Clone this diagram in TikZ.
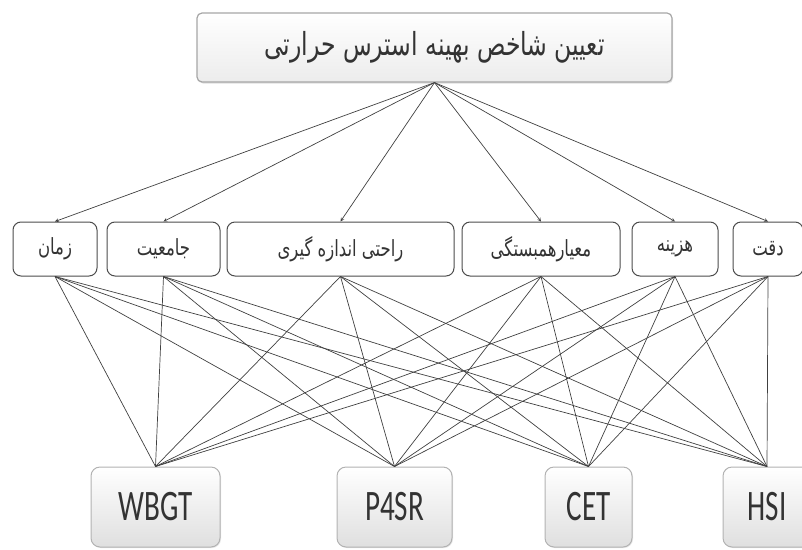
\documentclass[tikz,border=0pt]{standalone}
\usepackage{fontspec}
\setmainfont{Carlito}
\newfontfamily\farsi[Script=Arabic]{DejaVu Sans}
\TeXXeTstate=1
\usetikzlibrary{shadows}

\newcommand{\fa}[1]{{\farsi\beginR #1\endR}}
\newcommand{\tall}[1]{\scalebox{1}[1.35]{#1}}
\newcommand{\narrow}[1]{\scalebox{0.97}[1.45]{#1}}

\begin{document}
\begin{tikzpicture}[x=1pt, y=-1pt, >=stealth]
        \useasboundingbox (0,0) rectangle (802,549);
        \tikzstyle{every node}=[text=black!80, inner sep=0pt]
        \tikzstyle{goal}=[draw=gray!70, line width=1.2pt, rounded corners=5pt, top color=white, bottom color=gray!15, minimum width=475pt, minimum height=69pt, font=\fontsize{23.5}{28}\selectfont, drop shadow={opacity=0.25, shadow xshift=1pt, shadow yshift=-1.5pt}]
        \tikzstyle{crit}=[draw=black!70, line width=1pt, rounded corners=8pt, fill=white, minimum height=54pt, font=\fontsize{16.5}{20}\selectfont]
        \tikzstyle{alt}=[draw=gray!60, line width=1pt, rounded corners=9pt, top color=white, bottom color=gray!25, minimum height=80pt, font=\fontsize{30}{36}\selectfont, drop shadow={opacity=0.2, shadow xshift=1pt, shadow yshift=-1pt}]
        \tikzstyle{link}=[draw=black!75, line width=0.7pt]

% goal, criteria and alternatives

        \node[goal] (goal) at (434.5,47.5) {\tall{\fa{تعیین شاخص بهینه استرس حرارتی}}};

        \node[crit, minimum width=84pt] (zaman) at (55,249) {\tall{\fa{زمان}}};
        \node[crit, minimum width=113pt] (jameiat) at (163.5,249) {\tall{\fa{جامعیت}}};
        \node[crit, minimum width=227pt] (rahati) at (340.5,249) {\tall{\fa{راحتی اندازه گیری}}};
        \node[crit, minimum width=158pt] (meyar) at (541,249) {\tall{\fa{معیارهمبستگی}}};
        \node[crit, minimum width=86pt] (hazine) at (675,249) {\tall{\fa{هزینه}}};
        \node[crit, minimum width=70pt] (deghat) at (768,249) {\tall{\fa{دقت}}};

        \node[alt, minimum width=129pt] (wbgt) at (155.5,507) {\narrow{WBGT}};
        \node[alt, minimum width=115pt] (p4sr) at (394.5,507) {\narrow{P4SR}};
        \node[alt, minimum width=87pt] (cet) at (588.5,507) {\narrow{CET}};
        \node[alt, minimum width=88pt] (hsi) at (767,507) {\narrow{HSI}};

        \foreach \c in {zaman,jameiat,rahati,meyar,hazine,deghat} {
            \draw[link,->] (goal.south) -- (\c.north);
            \foreach \a in {wbgt,p4sr,cet,hsi}
                \draw[link] (\c.south) -- (\a.north);
        }

    \end{tikzpicture}
\end{document}
